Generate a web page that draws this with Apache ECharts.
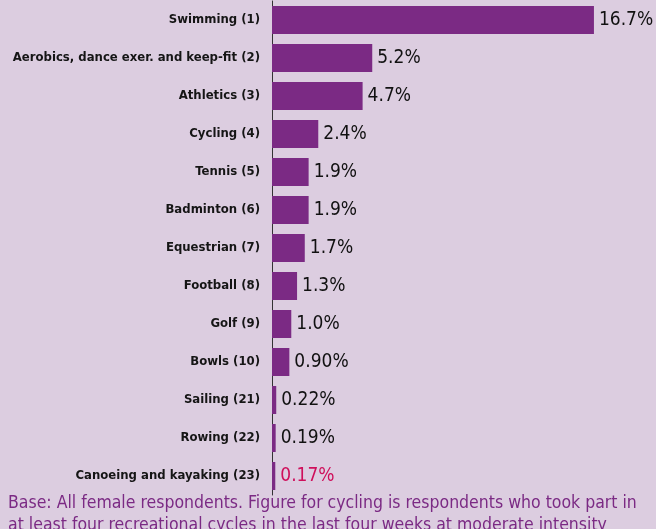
<!DOCTYPE html>
<html>
<head>
<meta charset="utf-8">
<script src="https://cdn.jsdelivr.net/npm/echarts@6/dist/echarts.min.js"></script>
<style>
  html, body { margin: 0; padding: 0; background: #dccde0; }
  #main { width: 656px; height: 529px; }
</style>
</head>
<body>
<div id="main"></div>
<script>
var categories = ['Swimming (1)', 'Aerobics, dance exer. and keep-fit (2)', 'Athletics (3)', 'Cycling (4)',
	'Tennis (5)', 'Badminton (6)', 'Equestrian (7)', 'Football (8)', 'Golf (9)', 'Bowls (10)',
	'Sailing (21)', 'Rowing (22)', 'Canoeing and kayaking (23)'];
var values = [16.7, 5.2, 4.7, 2.4, 1.9, 1.9, 1.7, 1.3, 1.0, 0.90, 0.22, 0.19, 0.17];
var valueLabels = ['16.7%', '5.2%', '4.7%', '2.4%', '1.9%', '1.9%', '1.7%', '1.3%', '1.0%', '0.90%', '0.22%', '0.19%', '0.17%'];
var footnote = 'Base: All female respondents. Figure for cycling is respondents who took part in\nat least four recreational cycles in the last four weeks at moderate intensity';

var condensed = '"DejaVu Sans Condensed", "Liberation Sans Narrow", sans-serif';

function initChart(elem){
	var myChart = echarts.init(document.getElementById(elem));
	var barData = values.map(function(v, i){
		var item = { value: v };
		if (i == values.length - 1) {
			item.label = { color: '#cf0f5b' };  // last one highlighted
		}
		return item;
	});
	var option = {
		backgroundColor: '#dccde0',
		animation: false,
		graphic: [{
			type: 'text',
			left: 8,
			top: 492,
			style: {
				text: footnote,
				fill: '#7b2a84',
				font: '17.5px ' + condensed,
				lineHeight: 22
			}
		}],
		grid: { left: 272, right: 37, top: 1, height: 494 },
		xAxis: {
			type: 'value',
			min: 0,
			max: 18,
			show: false
		},
		yAxis: {
			type: 'category',
			inverse: true,
			data: categories,
			axisTick: { show: false },
			axisLine: { show: true, lineStyle: { color: '#333', width: 1 } },
			axisLabel: {
				margin: 12,
				color: '#151515',
				fontWeight: 'bold',
				fontSize: 13,
				fontFamily: condensed
			}
		},
		series: [{
			type: 'bar',
			data: barData,
			barWidth: 28,
			itemStyle: { color: '#7b2a84' },
			label: {
				show: true,
				position: 'right',
				distance: 5,
				color: '#111',
				fontSize: 19,
				fontFamily: condensed,
				formatter: function(p){ return valueLabels[p.dataIndex]; }
			}
		}]
	};
	myChart.setOption(option);
}
initChart('main');
</script>
</body>
</html>
